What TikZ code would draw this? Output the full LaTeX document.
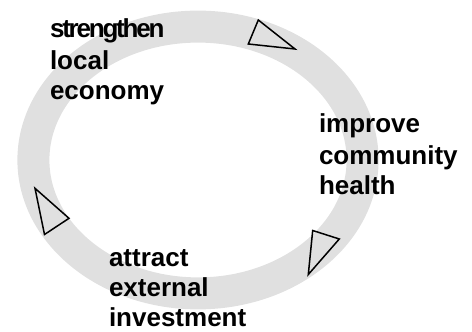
\documentclass[tikz,border=0pt]{standalone}
\usepackage{fontspec}
\setmainfont{Liberation Sans}
\definecolor{ringgray}{HTML}{E0E0E0}
\tikzset{
  lbl/.style={anchor=base west, inner sep=0pt, outer sep=0pt, font=\fontsize{26}{31}\selectfont\bfseries},
  ring/.style={draw=ringgray, line width=32pt},
  tri/.style={draw=black, line width=1.5pt, line join=miter}
}
\begin{document}
\begin{tikzpicture}[x=1pt,y=1pt]
\useasboundingbox (0,0) rectangle (472,332);
% ring
\draw[ring] (198,172) ellipse [x radius=164.6, y radius=133.4];
% triangles
\draw[tri] (258.3,312) -- (248.3,288) -- (295,283) -- cycle;
\draw[tri] (312.7,101.5) -- (339.3,93) -- (308.3,57.5) -- cycle;
\draw[tri] (35,143.7) -- (69,113.7) -- (44.5,97.5) -- cycle;
% labels
\node[lbl] (s1) at (50,294) {\addfontfeature{LetterSpace=-8.5}strengthen};
\node[lbl] (s2) at (50,262.5) {local};
\node[lbl] (s3) at (50,232) {economy};
\node[lbl] (h1) at (319,199.3) {improve};
\node[lbl] (h2) at (319,167) {community};
\node[lbl] (h3) at (319,137) {health};
\node[lbl] (a1) at (109,65.3) {attract};
\node[lbl] (a2) at (109,35.3) {external};
\node[lbl] (a3) at (109,5) {investment};
\end{tikzpicture}
\end{document}
